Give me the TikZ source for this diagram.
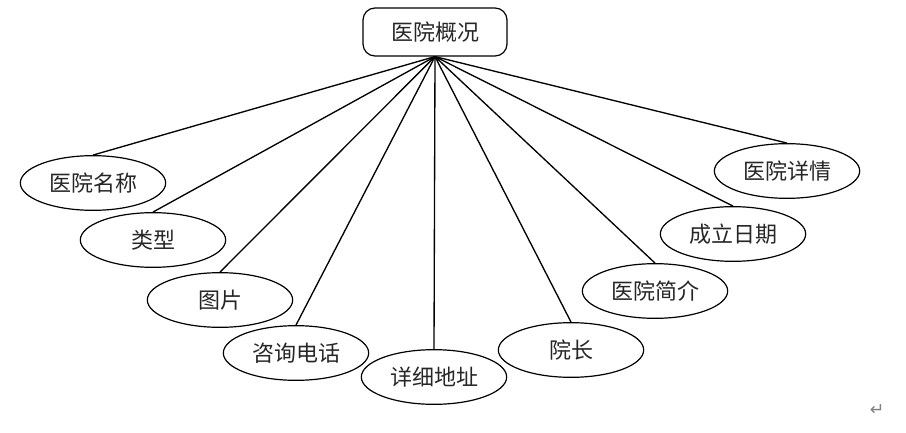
\documentclass[tikz,border=0pt]{standalone}
\usepackage{fontspec}
\setmainfont{Noto Sans CJK SC}
\newfontfamily\symfont{DejaVu Sans}
\usetikzlibrary{shapes.geometric, positioning}

\begin{document}
\begin{tikzpicture}[x=0.75pt,y=-0.75pt,
  entity/.style={draw,rounded corners=9pt,line width=0.9pt,minimum width=108pt,minimum height=36pt,text=black!85,font=\fontsize{16.5}{19}\selectfont},
  attr/.style={draw,ellipse,line width=0.9pt,inner sep=0pt,minimum width=109pt,minimum height=41pt,text=black!85,font=\fontsize{16.5}{19}\selectfont},
  link/.style={line width=1pt}]
\useasboundingbox (0,0) rectangle (906,432);
% entity
\node[entity] (overview) at (435,32) {医院概况};
\coordinate (hub) at (overview.south);
% attributes
\node[attr] (name) at (93,183) {医院名称};
\node[attr] (kind) at (153,240) {类型};
\node[attr] (photo) at (220,300) {图片};
\node[attr] (phone) at (296,353) {咨询电话};
\node[attr] (addr) at (434,377) {详细地址};
\node[attr] (dean) at (571,350) {院长};
\node[attr] (intro) at (655,291) {医院简介};
\node[attr] (founded) at (733,234) {成立日期};
\node[attr] (detail) at (787,171) {医院详情};
% links
\foreach \n in {name,kind,photo,phone,addr,dean,intro,founded,detail}
  \draw[link] (hub) -- (\n.north);
\node[text=gray,font=\symfont\fontsize{13}{15}\selectfont] (mark) at (877,410) {↵};
\end{tikzpicture}
\end{document}
